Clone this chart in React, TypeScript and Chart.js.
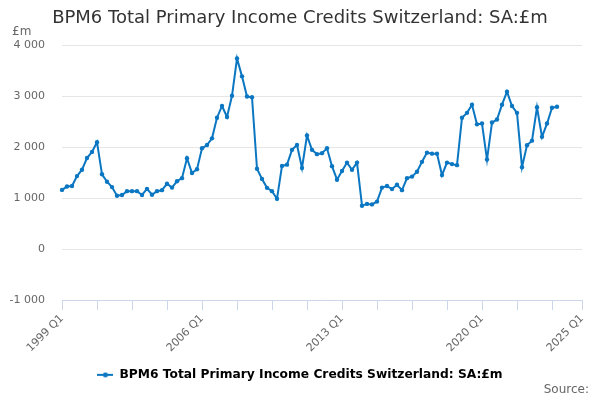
import React, { useRef, useEffect } from 'react';
import { Chart, registerables } from 'chart.js';

Chart.register(...registerables);

const title = 'BPM6 Total Primary Income Credits Switzerland: SA:£m';
const seriesName = 'BPM6 Total Primary Income Credits Switzerland: SA:£m';
const unitLabel = '£m';
const sourceLabel = 'Source:';

// quarterly categories, 1999 Q1 .. 2025 Q1
const firstYear = 1999;
const lastYear = 2025;
const quarters: string[] = [];
for (let y = firstYear; y <= lastYear; y++) {
  for (let q = 1; q <= 4; q++) {
    if (y === lastYear && q > 1) break;
    quarters.push(`${y} Q${q}`);
  }
}

const tickLabels = ['1999 Q1', '2006 Q1', '2013 Q1', '2020 Q1', '2025 Q1'];
const yTicks = [-1000, 0, 1000, 2000, 3000, 4000];

// values 1999 Q1 .. 2023 Q4
const credits = [
  1160, 1225, 1235, 1430, 1555, 1785, 1905, 2095, 1465, 1320,
  1215, 1045, 1060, 1135, 1135, 1135, 1060, 1180, 1065, 1135,
  1155, 1280, 1205, 1330, 1390, 1780, 1490, 1565, 1975, 2040,
  2170, 2575, 2805, 2590, 3005, 3735, 3385, 2990, 2975, 1575,
  1375, 1200, 1135, 985, 1630, 1655, 1945, 2040, 1590, 2225,
  1945, 1860, 1880, 1975, 1625, 1360, 1530, 1695, 1555, 1695,
  850, 885, 875, 930, 1205, 1235, 1175, 1260, 1155, 1390,
  1420, 1515, 1710, 1890, 1870, 1870, 1450, 1695, 1665, 1645,
  2575, 2670, 2830, 2445, 2460, 1755, 2480, 2540, 2830, 3085,
  2805, 2670, 1605, 2035, 2125, 2780, 2200, 2460, 2770, 2790,
];

const blue = '#0b77c2';

const fmt = (v: number) => String(v).replace(/\B(?=(\d{3})+(?!\d))/g, ' ');

const makeLegendIcon = () => {
  const c = document.createElement('canvas');
  c.width = 16;
  c.height = 6;
  const g = c.getContext('2d')!;
  g.strokeStyle = blue;
  g.lineWidth = 2;
  g.beginPath();
  g.moveTo(0, 3);
  g.lineTo(16, 3);
  g.stroke();
  g.fillStyle = blue;
  g.beginPath();
  g.arc(8, 3, 2.5, 0, Math.PI * 2);
  g.fill();
  return c;
};

// title, unit and source drawn straight on the canvas
const extraText = {
  id: 'extraText',
  afterDraw(chart: Chart) {
    const { ctx } = chart;
    ctx.save();
    ctx.textBaseline = 'middle';
    ctx.textAlign = 'center';
    ctx.font = '18px "DejaVu Sans"';
    ctx.fillStyle = '#333333';
    ctx.fillText(title, 300, 18);
    ctx.font = '12px "DejaVu Sans"';
    ctx.fillStyle = '#666666';
    ctx.textAlign = 'left';
    ctx.fillText(unitLabel, 12, 32);
    ctx.textAlign = 'right';
    ctx.fillText(sourceLabel, 589, 390);
    ctx.restore();
  },
};

const App: React.FC = () => {
  const chartRef = useRef<HTMLCanvasElement>(null);
  const chartInstance = useRef<Chart | null>(null);

  useEffect(() => {
    if (!chartRef.current) return;
    const ctx = chartRef.current.getContext('2d');
    if (!ctx) return;

    if (chartInstance.current) {
      chartInstance.current.destroy();
    }

    Chart.defaults.font.family = '"DejaVu Sans", sans-serif';
    const icon = makeLegendIcon();

    chartInstance.current = new Chart(ctx, {
      type: 'line',
      data: {
        labels: quarters,
        datasets: [
          {
            label: seriesName,
            data: credits,
            borderColor: blue,
            backgroundColor: blue,
            borderWidth: 2,
            pointRadius: 2.2,
            pointBackgroundColor: blue,
            pointBorderWidth: 0,
            pointStyle: 'circle',
            tension: 0,
          },
        ],
      },
      options: {
        animation: false,
        responsive: true,
        maintainAspectRatio: false,
        layout: { padding: { left: 0, right: 0, top: 45, bottom: 9 } },
        plugins: {
          title: { display: false },
          legend: {
            position: 'bottom',
            labels: {
              color: '#333333',
              font: { size: 12.25, weight: 'bold' },
              usePointStyle: true,
              pointStyleWidth: 16,
              padding: 12,
              generateLabels: (chart) => [
                {
                  text: seriesName,
                  pointStyle: icon,
                  fillStyle: blue,
                  strokeStyle: blue,
                  lineWidth: 0,
                  datasetIndex: 0,
                  hidden: !chart.isDatasetVisible(0),
                },
              ],
            },
          },
          tooltip: { enabled: false },
        },
        scales: {
          x: {
            type: 'category',
            afterBuildTicks: (scale: any) => {
              const ticks = [];
              for (let i = 0; i < quarters.length - 1; i += 7) ticks.push({ value: i });
              ticks.push({ value: quarters.length - 1 });
              scale.ticks = ticks;
            },
            ticks: {
              autoSkip: false,
              minRotation: 45,
              maxRotation: 45,
              color: '#666666',
              font: { size: 11 },
              padding: 2,
              callback: (value: any) => {
                const l = quarters[value as number];
                return tickLabels.includes(l) ? l : '';
              },
            },
            grid: {
              drawOnChartArea: false,
              drawTicks: true,
              tickLength: 10,
              tickColor: '#ccd6eb',
            },
            border: { color: '#ccd6eb', width: 1 },
          },
          y: {
            min: -1000,
            max: 4000,
            afterFit: (scale: any) => {
              scale.width = 62;
            },
            afterBuildTicks: (scale: any) => {
              scale.ticks = yTicks.map((v) => ({ value: v }));
            },
            ticks: {
              color: '#666666',
              font: { size: 11 },
              padding: 17,
              callback: (value: any) => fmt(Number(value)),
            },
            grid: {
              color: '#e6e6e6',
              drawTicks: false,
            },
            border: { display: false },
          },
          // empty right-hand spacer so the plot ends at the same place
          yRight: {
            position: 'right',
            min: -1000,
            max: 4000,
            afterFit: (scale: any) => {
              scale.width = 18;
            },
            ticks: { display: false },
            grid: { display: false },
            border: { display: false },
          },
        },
      },
      plugins: [extraText],
    });

    return () => {
      if (chartInstance.current) {
        chartInstance.current.destroy();
        chartInstance.current = null;
      }
    };
  }, []);

  return (
    <div style={{ position: 'fixed', left: 0, top: 0, width: 600, height: 400, background: '#ffffff' }}>
      <canvas ref={chartRef} />
    </div>
  );
};

export default App;
